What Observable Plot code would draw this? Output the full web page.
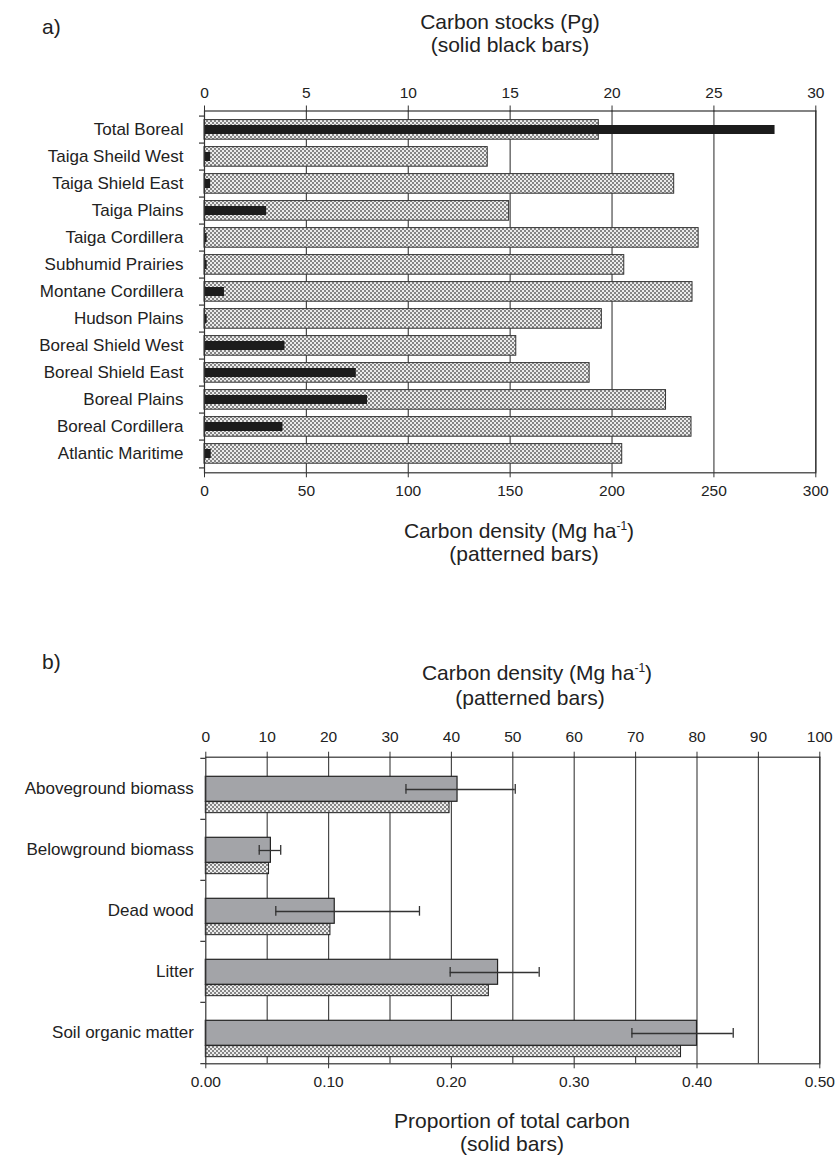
<!DOCTYPE html>
<html>
<head>
<meta charset="utf-8">
<script src="https://cdn.jsdelivr.net/npm/d3@7"></script>
<script src="https://cdn.jsdelivr.net/npm/@observablehq/plot@0.6"></script>
<style>
  body { margin: 0; background: #fff; }
  #page { position: relative; width: 838px; height: 1156px; overflow: hidden; font-family: "Liberation Sans", Arial, sans-serif; color: #222; }
  .t { position: absolute; transform: translate(-50%, -50%); white-space: nowrap; font-size: 21px; line-height: 1; }
  .pl { position: absolute; white-space: nowrap; font-size: 21px; line-height: 1; }
  .svgwrap { position: absolute; left: 0; }
  sup { font-size: 12px; vertical-align: 8px; line-height: 0; }
</style>
</head>
<body>
<div id="page">
  <div class="pl" style="left:42px; top:16px;">a)</div>
  <div class="t" style="left:510px; top:21px;">Carbon stocks (Pg)</div>
  <div class="t" style="left:510px; top:44px;">(solid black bars)</div>
  <div class="t" style="left:519px; top:530px;">Carbon density (Mg ha<sup>-1</sup>)</div>
  <div class="t" style="left:524px; top:553px;">(patterned bars)</div>

  <div class="pl" style="left:42px; top:651px;">b)</div>
  <div class="t" style="left:537px; top:672px;">Carbon density (Mg ha<sup>-1</sup>)</div>
  <div class="t" style="left:530px; top:697px;">(patterned bars)</div>
  <div class="t" style="left:512px; top:1120px;">Proportion of total carbon</div>
  <div class="t" style="left:512px; top:1143px;">(solid bars)</div>

  <div id="a" class="svgwrap" style="top:0px;"></div>
  <div id="b" class="svgwrap" style="top:620px;"></div>
</div>
<script>
// ---------- Panel a data ----------
const ecozones = ["Total Boreal", "Taiga Sheild West", "Taiga Shield East", "Taiga Plains", "Taiga Cordillera",
  "Subhumid Prairies", "Montane Cordillera", "Hudson Plains", "Boreal Shield West", "Boreal Shield East",
  "Boreal Plains", "Boreal Cordillera", "Atlantic Maritime"];
const densityA = [193.5, 139, 230.5, 149.5, 242.5, 206, 239.5, 195, 153, 189, 226.5, 239, 205]; // Mg/ha
const stocksA = [28.0, 0.3, 0.3, 3.05, 0.13, 0.13, 0.98, 0.13, 3.95, 7.45, 8.0, 3.85, 0.33];   // Pg
const densityTicksA = [0, 50, 100, 150, 200, 250, 300];
const stockTicksA = [0, 5, 10, 15, 20, 25, 30];

// ---------- Panel b data ----------
const pools = ["Aboveground biomass", "Belowground biomass", "Dead wood", "Litter", "Soil organic matter"];
const proportionB = [0.205, 0.053, 0.105, 0.238, 0.400];
const proportionLoB = [0.163, 0.0435, 0.057, 0.199, 0.347];
const proportionHiB = [0.252, 0.061, 0.174, 0.2715, 0.4295];
const densityB = [39.7, 10.3, 20.3, 46.1, 77.4]; // Mg/ha
const proportionTicksB = [0, 0.1, 0.2, 0.3, 0.4, 0.5];
const densityTicksB = [0, 10, 20, 30, 40, 50, 60, 70, 80, 90, 100];

const FONT = "Liberation Sans, Arial, sans-serif";

function patternDefs(id) {
  return () => {
    const g = d3.create("svg:g");
    const p = g.append("defs").append("pattern")
      .attr("id", id).attr("patternUnits", "userSpaceOnUse")
      .attr("width", 4).attr("height", 4);
    p.append("rect").attr("width", 4).attr("height", 4).attr("fill", "#858585");
    p.append("rect").attr("width", 2).attr("height", 2).attr("fill", "#ececec");
    p.append("rect").attr("x", 2).attr("y", 2).attr("width", 2).attr("height", 2).attr("fill", "#ececec");
    return g.node();
  };
}

// ---------- Panel a ----------
const tableA = ecozones.map((c, i) => ({cat: c, density: densityA[i], stock: stocksA[i]}));
const hA = 560, mtA = 110.5, mbA = 87.7;
const bwA = (hA - mtA - mbA) / ecozones.length;
const pxA = (838 - 204 - 22.7) / 300;

const plotA = Plot.plot({
  width: 838, height: hA,
  marginLeft: 204, marginRight: 22.7, marginTop: mtA, marginBottom: mbA,
  style: {fontFamily: FONT, fontSize: "15.5px", color: "#222", background: "transparent", overflow: "visible"},
  x: {domain: [0, 300]},
  y: {domain: ecozones, padding: 0},
  marks: [
    patternDefs("patA"),
    Plot.ruleX(densityTicksA.slice(1), {stroke: "#4a4a4a", strokeWidth: 1.2}),
    Plot.barX(tableA, {y: "cat", x: "density", fill: "url(#patA)", stroke: "#333", strokeWidth: 1, insetTop: 3.6, insetBottom: 3.8}),
    Plot.barX(tableA, {y: "cat", x: d => d.stock * 10, fill: "#1c1c1c", insetTop: 9, insetBottom: 9}),
    Plot.frame({stroke: "#333", strokeWidth: 1.2}),
    Plot.ruleY(ecozones, {y: d => d, x1: -5 / pxA, x2: 0, dy: -bwA / 2, stroke: "#333", strokeWidth: 1.2}),
    Plot.ruleY([ecozones[ecozones.length - 1]], {y: d => d, x1: -5 / pxA, x2: 0, dy: bwA / 2, stroke: "#333", strokeWidth: 1.2}),
    Plot.axisX({anchor: "bottom", ticks: densityTicksA, tickSize: 5, tickPadding: 7, label: null, stroke: "#333", fill: "#222"}),
    Plot.axisX({anchor: "top", ticks: stockTicksA.map(d => d * 10), tickFormat: d => String(d / 10), tickSize: 6, tickPadding: 7, label: null, stroke: "#333", fill: "#222"}),
    Plot.axisY({tickSize: 0, tickPadding: 21, label: null, fontSize: 17, fill: "#222"})
  ]
});
document.getElementById("a").appendChild(plotA);

// ---------- Panel b ----------
const tableB = pools.map((c, i) => ({cat: c, prop: proportionB[i], lo: proportionLoB[i], hi: proportionHiB[i], dens: densityB[i]}));
const hB = 480, mtB = 136.7, mbB = 36.7;
const bwB = (hB - mtB - mbB) / pools.length;
const pxB = (838 - 205.3 - 18.7) / 0.5;

const plotB = Plot.plot({
  width: 838, height: hB,
  marginLeft: 205.3, marginRight: 18.7, marginTop: mtB, marginBottom: mbB,
  style: {fontFamily: FONT, fontSize: "15.5px", color: "#222", background: "transparent", overflow: "visible"},
  x: {domain: [0, 0.5]},
  y: {domain: pools, padding: 0},
  marks: [
    patternDefs("patB"),
    Plot.ruleX(densityTicksB.slice(1).map(d => d / 200), {stroke: "#4a4a4a", strokeWidth: 1.2}),
    Plot.barX(tableB, {y: "cat", x: "prop", fill: "#a3a4a8", stroke: "#222", strokeWidth: 1.2, insetTop: 18.3, insetBottom: bwB - 43.6}),
    Plot.barX(tableB, {y: "cat", x: d => d.dens / 200, fill: "url(#patB)", stroke: "#222", strokeWidth: 1, insetTop: 43.6, insetBottom: bwB - 55}),
    Plot.ruleY(tableB, {y: "cat", x1: "lo", x2: "hi", stroke: "#333", strokeWidth: 1.3, dy: 0.5}),
    Plot.tickX(tableB, {y: "cat", x: "lo", stroke: "#333", strokeWidth: 1.3, insetTop: 26, insetBottom: bwB - 36}),
    Plot.tickX(tableB, {y: "cat", x: "hi", stroke: "#333", strokeWidth: 1.3, insetTop: 26, insetBottom: bwB - 36}),
    Plot.frame({stroke: "#333", strokeWidth: 1.2}),
    Plot.ruleY(pools, {y: d => d, x1: -5 / pxB, x2: 0, dy: -bwB / 2, stroke: "#333", strokeWidth: 1.2}),
    Plot.ruleY([pools[pools.length - 1]], {y: d => d, x1: -5 / pxB, x2: 0, dy: bwB / 2, stroke: "#333", strokeWidth: 1.2}),
    Plot.axisX({anchor: "bottom", ticks: proportionTicksB, tickFormat: d => d.toFixed(2), tickSize: 5, tickPadding: 7, label: null, stroke: "#333", fill: "#222"}),
    Plot.axisX({anchor: "top", ticks: densityTicksB.map(d => d / 200), tickFormat: d => String(Math.round(d * 200)), tickSize: 6, tickPadding: 9, label: null, stroke: "#333", fill: "#222"}),
    Plot.axisY({tickSize: 0, tickPadding: 12, label: null, fontSize: 17, fill: "#222"})
  ]
});
document.getElementById("b").appendChild(plotB);
</script>
</body>
</html>
